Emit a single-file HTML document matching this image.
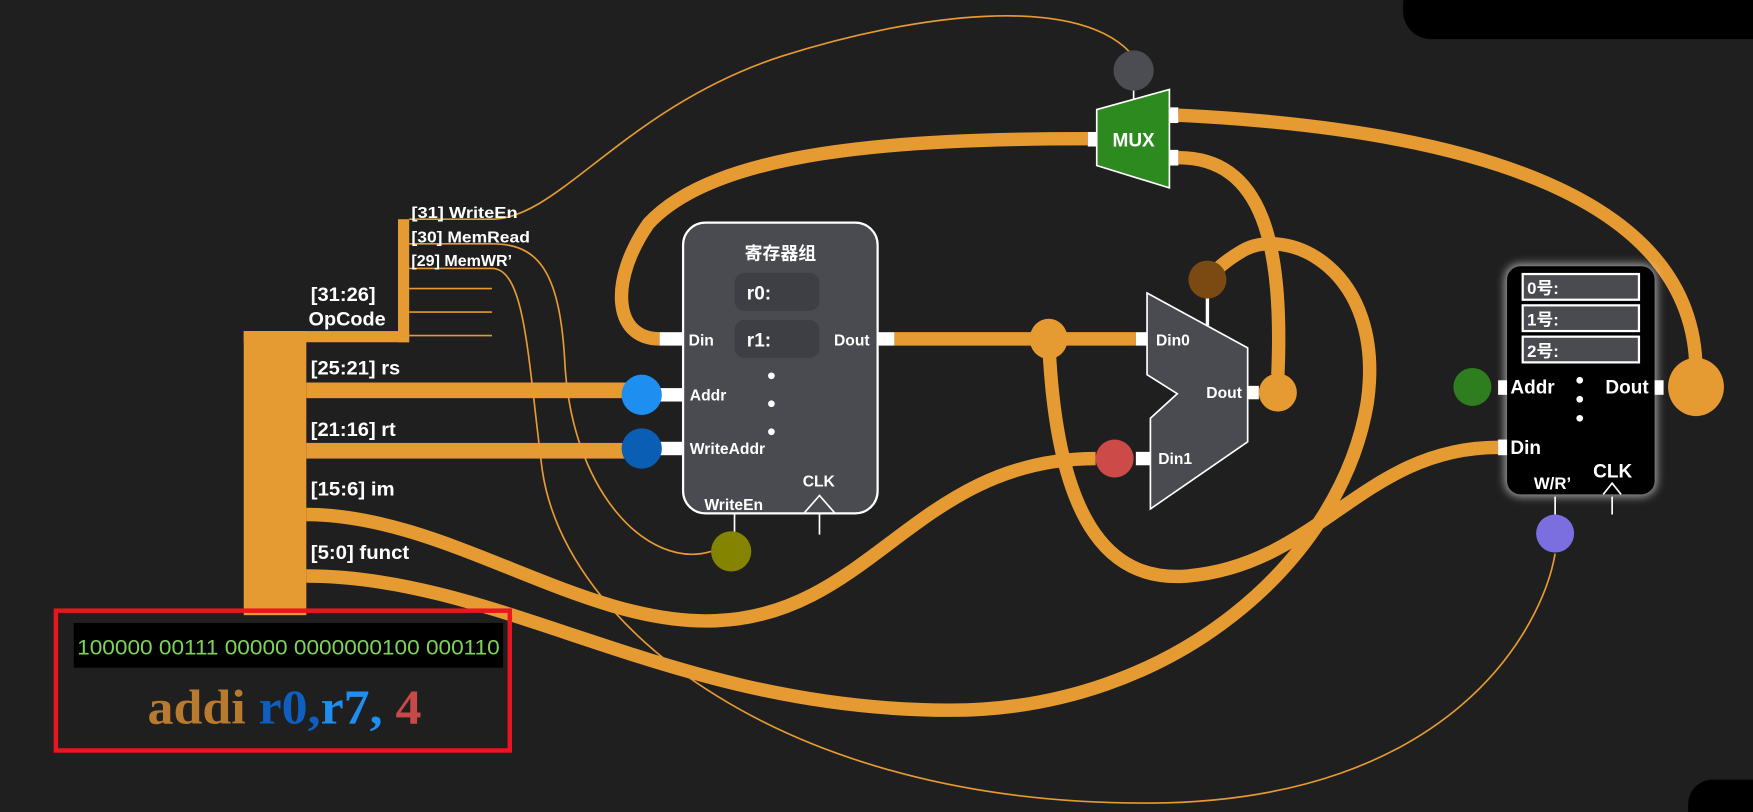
<!DOCTYPE html>
<html><head><meta charset="utf-8"><style>
html,body{margin:0;padding:0;background:#1f1f1f;}
svg{display:block}
text{font-family:"Liberation Sans Narrow","Liberation Sans","Noto Sans CJK SC",sans-serif;font-weight:bold;fill:#fff}
</style></head><body>
<svg width="1753" height="812" viewBox="0 0 1568 726" preserveAspectRatio="none" xmlns="http://www.w3.org/2000/svg">
<defs><filter id="glow" x="-20%" y="-20%" width="140%" height="140%"><feGaussianBlur stdDeviation="4"/></filter></defs>
<rect width="1568" height="726" fill="#1f1f1f"/>
<rect x="1255" y="-20" width="340" height="55" rx="25" fill="#000"/>
<rect x="1510" y="697" width="80" height="50" rx="22" fill="#000"/>

<g fill="none" stroke="#e59a32" stroke-width="1.5">
<path d="M366,196 L440,196 C500,196 560,95 700,50 C820,12 960,-5 1010,46"/>
<path d="M366,218 L440,218 C480,218 500,240 505,320 C510,440 580,510 636,493"/>
<path d="M366,240 L440,240 C470,240 472,320 485,420 C505,560 700,720 1030,718 C1300,716 1380,560 1391,495"/>
<path d="M366,258 H440 M366,279 H440 M366,300 H440"/>
</g>

<g fill="#e59a32">
<rect x="218" y="296" width="56" height="254"/>
<rect x="218" y="296" width="148" height="10"/>
<rect x="356" y="196" width="10" height="110"/>
<rect x="274" y="342" width="300" height="14"/>
<rect x="274" y="396" width="300" height="14"/>
</g>

<g fill="none" stroke="#e59a32" stroke-width="12">
<path d="M274,460 C400,460 520,560 640,555 C780,550 820,410 980,410"/>
<path d="M274,515 C450,515 600,635 850,635 C1050,635 1200,500 1223,360 C1240,240 1150,200 1110,225 C1090,237 1085,245 1080,250"/>
<path d="M800,303 H1016"/>
<path d="M938,303 C945,480 1000,520 1062,515 C1180,505 1220,400 1340,400"/>
<path d="M590,303 C548,303 545,250 580,200 C640,135 800,124 973,124"/>
<path d="M1054,103 C1300,115 1515,170 1517,330"/>
<path d="M1054,141 C1130,141 1148,220 1143,335"/>
</g>

<!-- register file -->
<rect x="611" y="199" width="174" height="260" rx="20" fill="#4a4b50" stroke="#fff" stroke-width="2"/>
<text x="698" y="232" font-size="16" text-anchor="middle" style="font-family:'Noto Sans CJK SC',sans-serif">寄存器组</text>
<rect x="657" y="244" width="76" height="34" rx="9" fill="#3e3f44"/>
<rect x="657" y="286" width="76" height="34" rx="9" fill="#3e3f44"/>
<text x="668" y="268" font-size="17">r0:</text>
<text x="668" y="310" font-size="17">r1:</text>
<circle cx="690" cy="336" r="3" fill="#fff"/><circle cx="690" cy="361" r="3" fill="#fff"/><circle cx="690" cy="386" r="3" fill="#fff"/>
<text x="616" y="309" font-size="14">Din</text>
<text x="746" y="309" font-size="14">Dout</text>
<text x="617" y="358" font-size="14">Addr</text>
<text x="617" y="406" font-size="14">WriteAddr</text>
<text x="630" y="456" font-size="14">WriteEn</text>
<text x="718" y="435" font-size="14">CLK</text>
<path d="M719,459 L733,443 L747,459" fill="none" stroke="#fff" stroke-width="1.5"/>
<path d="M733,459 V478 M657,459 V478" stroke="#fff" stroke-width="1.5"/>
<g fill="#fff"><rect x="590" y="297" width="21" height="12"/><rect x="785" y="297" width="15" height="12"/><rect x="590" y="347" width="21" height="12"/><rect x="590" y="395" width="21" height="12"/></g>
<circle cx="574" cy="353" r="18" fill="#1e8ff0"/>
<circle cx="574" cy="401" r="18" fill="#0a5fb5"/>
<ellipse cx="654" cy="493" rx="18" ry="18" fill="#848400"/>

<!-- MUX -->
<path d="M1014,63 V90" stroke="#fff" stroke-width="1.5"/>
<circle cx="1014" cy="63" r="18" fill="#4b4d52"/>
<polygon points="981,98 1046,80 1046,168 981,148" fill="#2d8a1e" stroke="#fff" stroke-width="1.5"/>
<text x="1014" y="131" font-size="17" text-anchor="middle">MUX</text>
<g fill="#fff"><rect x="973" y="118" width="8" height="13"/><rect x="1046" y="96" width="8" height="14"/><rect x="1046" y="134" width="8" height="14"/></g>

<!-- selector -->
<path d="M1080,250 V291" stroke="#fff" stroke-width="3"/>
<circle cx="1080" cy="250" r="17" fill="#7a4a12"/>
<polygon points="1026,262 1116,311 1116,395 1029,455 1029,374 1053,352 1026,335" fill="#4a4b50" stroke="#fff" stroke-width="1.5"/>
<g fill="#fff"><rect x="1016" y="297" width="10" height="12"/><rect x="1016" y="404" width="13" height="12"/><rect x="1116" y="345" width="10" height="12"/></g>
<text x="1034" y="309" font-size="14">Din0</text>
<text x="1036" y="415" font-size="14">Din1</text>
<text x="1079" y="356" font-size="14">Dout</text>
<circle cx="1143" cy="351" r="17" fill="#e59a32"/>
<ellipse cx="938" cy="303" rx="17" ry="18" fill="#e59a32"/>
<circle cx="997" cy="410" r="17" fill="#cc4a48"/>

<!-- memory -->
<rect x="1346" y="236" width="136" height="208" rx="14" fill="#fff" opacity="0.6" filter="url(#glow)"/>
<rect x="1348" y="238" width="132" height="204" rx="12" fill="#000"/>
<g fill="#4a4b50" stroke="#fff" stroke-width="2">
<rect x="1362" y="245" width="104" height="23"/><rect x="1362" y="273" width="104" height="23"/><rect x="1362" y="301" width="104" height="23"/></g>
<text x="1366" y="263" font-size="15">0号:</text>
<text x="1366" y="291" font-size="15">1号:</text>
<text x="1366" y="319" font-size="15">2号:</text>
<text x="1351" y="352" font-size="17">Addr</text>
<text x="1436" y="352" font-size="17">Dout</text>
<text x="1351" y="406" font-size="17">Din</text>
<text x="1372" y="437" font-size="15">W/R’</text>
<text x="1425" y="427" font-size="17">CLK</text>
<circle cx="1413" cy="340" r="3" fill="#fff"/><circle cx="1413" cy="357" r="3" fill="#fff"/><circle cx="1413" cy="374" r="3" fill="#fff"/>
<path d="M1434,442 L1442,432 L1450,442" fill="none" stroke="#fff" stroke-width="1.5"/>
<path d="M1391,444 V460 M1442,444 V460" stroke="#fff" stroke-width="1.5"/>
<g fill="#fff"><rect x="1340" y="340" width="8" height="13"/><rect x="1340" y="393" width="8" height="14"/><rect x="1480" y="340" width="8" height="13"/></g>
<circle cx="1317" cy="346" r="17" fill="#2e7d1e"/>
<circle cx="1391" cy="477" r="17" fill="#7b6fe0"/>
<ellipse cx="1517" cy="346" rx="25" ry="26" fill="#e59a32"/>

<!-- labels -->
<text x="368" y="195" font-size="14" textLength="95" lengthAdjust="spacingAndGlyphs">[31] WriteEn</text>
<text x="368" y="217" font-size="14" textLength="106" lengthAdjust="spacingAndGlyphs">[30] MemRead</text>
<text x="368" y="238" font-size="14" textLength="90" lengthAdjust="spacingAndGlyphs">[29] MemWR’</text>
<text x="278" y="269" font-size="17" textLength="58" lengthAdjust="spacingAndGlyphs">[31:26]</text>
<text x="276" y="291" font-size="17" textLength="69" lengthAdjust="spacingAndGlyphs">OpCode</text>
<text x="278" y="335" font-size="17" textLength="80" lengthAdjust="spacingAndGlyphs">[25:21] rs</text>
<text x="278" y="390" font-size="17" textLength="76" lengthAdjust="spacingAndGlyphs">[21:16] rt</text>
<text x="278" y="443" font-size="17" textLength="75" lengthAdjust="spacingAndGlyphs">[15:6] im</text>
<text x="278" y="500" font-size="17" textLength="88" lengthAdjust="spacingAndGlyphs">[5:0] funct</text>

<!-- instruction box -->
<rect x="50" y="546" width="406" height="125" fill="none" stroke="#e8161e" stroke-width="4"/>
<rect x="66" y="557" width="384" height="40" fill="#000"/>
<text x="69" y="585" font-size="19" textLength="378" lengthAdjust="spacingAndGlyphs" style="fill:#7fd35a;font-weight:normal">100000 00111  00000 0000000100 000110</text>
<text x="132" y="647" font-size="44" textLength="245" lengthAdjust="spacingAndGlyphs" style="font-family:'Liberation Serif',serif;font-weight:bold"><tspan style="fill:#b87a2e">addi</tspan> <tspan style="fill:#0e5fbf">r0,</tspan><tspan style="fill:#1e8ff0">r7,</tspan> <tspan style="fill:#c84a48">4</tspan></text>
</svg>
</body></html>
